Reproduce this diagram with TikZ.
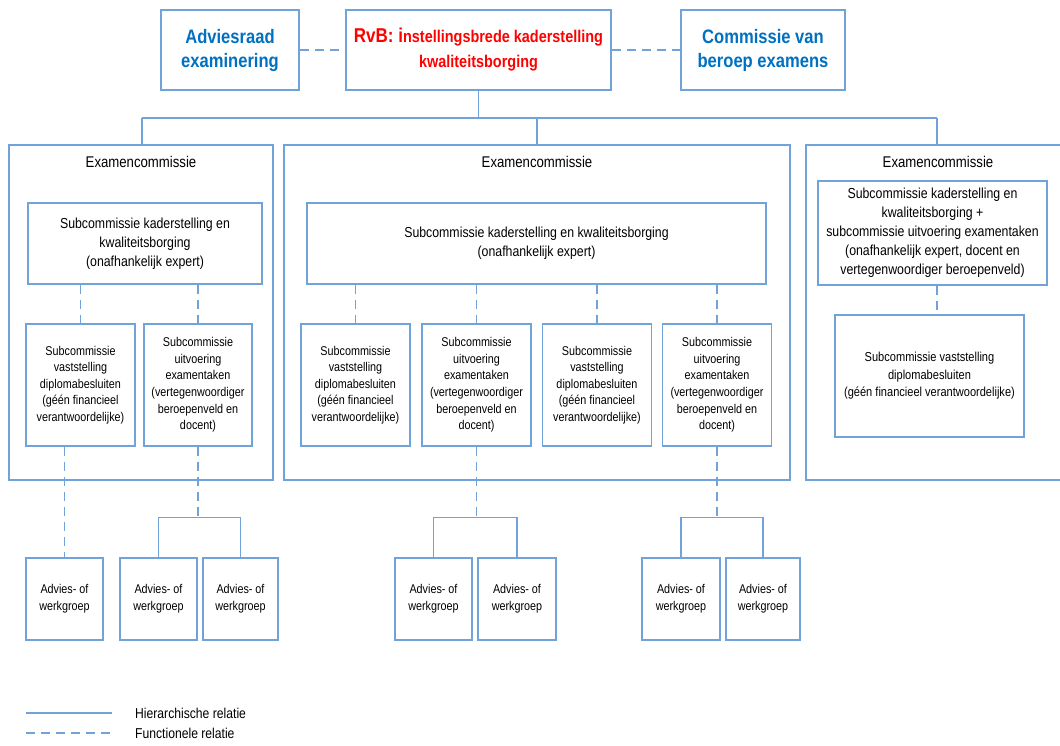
\documentclass[tikz,border=0pt]{standalone}
\usepackage{fontspec}
\setmainfont{Liberation Sans}[FakeStretch=0.85]
\definecolor{lijn}{RGB}{112,163,218}
\definecolor{kopblauw}{RGB}{0,112,192}
\definecolor{kopRood}{RGB}{255,0,0}

\begin{document}
\begin{tikzpicture}[x=1pt,y=-1pt,
  box/.style={draw=lijn, line width=1.2pt, align=center, inner sep=2pt},
  hier/.style={draw=lijn, line width=1.2pt},
  func/.style={draw=lijn, line width=1.2pt, dash pattern=on 9pt off 6pt},
  kop/.style={font=\fontsize{19.5}{24}\selectfont\bfseries, text=kopblauw},
  groot/.style={font=\fontsize{14.5}{19}\selectfont},
  klein/.style={font=\fontsize{12.7}{16.6}\selectfont}]
\useasboundingbox (0,0) rectangle (1060,745);

% top
\node (adv) at (230,50) [box, kop, minimum width=138, minimum height=80] {Adviesraad\\examinering};
\node (rvb) at (478.5,50) [box, minimum width=265, minimum height=80, text=kopRood, font=\fontsize{17}{25}\selectfont\bfseries]
  {{\fontsize{20}{25}\selectfont RvB: i}nstellingsbrede kaderstelling\\kwaliteitsborging};
\node (cve) at (763,50) [box, kop, minimum width=164, minimum height=80] {Commissie van\\beroep examens};

% examencommissies
\node (ec1) at (141,312.5) [box, minimum width=264, minimum height=335] {};
\node (ec2) at (537,312.5) [box, minimum width=506, minimum height=335] {};
\node (ec3) at (934,312.5) [box, minimum width=256, minimum height=335] {};
\node (ect1) at (141,162) [font=\fontsize{15.5}{19}\selectfont] {Examencommissie};
\node (ect2) at (537,162) [font=\fontsize{15.5}{19}\selectfont] {Examencommissie};
\node (ect3) at (938,162) [font=\fontsize{15.5}{19}\selectfont] {Examencommissie};

% subcommissies links
\node (k1) at (145,243.5) [box, groot, minimum width=234, minimum height=81] {Subcommissie kaderstelling en\\kwaliteitsborging\\(onafhankelijk expert)};
\node (s1a) at (80.5,385) [box, klein, minimum width=109, minimum height=122] {Subcommissie\\vaststelling\\diplomabesluiten\\(géén financieel\\verantwoordelijke)};
\node (s1b) at (198,385) [box, klein, minimum width=108, minimum height=122] {Subcommissie\\uitvoering\\examentaken\\(vertegenwoordiger\\beroepenveld en\\docent)};

% subcommissies midden
\node (k2) at (536.5,243.5) [box, groot, minimum width=459, minimum height=81] {Subcommissie kaderstelling en kwaliteitsborging\\(onafhankelijk expert)};
\node (s2a) at (355.5,385) [box, klein, minimum width=109, minimum height=122] {Subcommissie\\vaststelling\\diplomabesluiten\\(géén financieel\\verantwoordelijke)};
\node (s2b) at (476.5,385) [box, klein, minimum width=109, minimum height=122] {Subcommissie\\uitvoering\\examentaken\\(vertegenwoordiger\\beroepenveld en\\docent)};
\node (s2c) at (597,385) [box, klein, minimum width=109, minimum height=122] {Subcommissie\\vaststelling\\diplomabesluiten\\(géén financieel\\verantwoordelijke)};
\node (s2d) at (717,385) [box, klein, minimum width=109, minimum height=122] {Subcommissie\\uitvoering\\examentaken\\(vertegenwoordiger\\beroepenveld en\\docent)};

% subcommissies rechts
\node (k3) at (932.5,233) [box, groot, minimum width=229, minimum height=104] {Subcommissie kaderstelling en\\kwaliteitsborging +\\subcommissie uitvoering examentaken\\(onafhankelijk expert, docent en\\vertegenwoordiger beroepenveld)};
\node (s3) at (929.5,376) [box, font=\fontsize{13}{17.5}\selectfont, minimum width=189, minimum height=122] {Subcommissie vaststelling\\diplomabesluiten\\(géén financieel verantwoordelijke)};

% werkgroepen
\node (a1) at (64.5,599) [box, klein, minimum width=77, minimum height=82] {Advies- of\\werkgroep};
\node (a2) at (158.5,599) [box, klein, minimum width=77, minimum height=82] {Advies- of\\werkgroep};
\node (a3) at (240.5,599) [box, klein, minimum width=75, minimum height=82] {Advies- of\\werkgroep};
\node (a4) at (433.5,599) [box, klein, minimum width=77, minimum height=82] {Advies- of\\werkgroep};
\node (a5) at (517,599) [box, klein, minimum width=78, minimum height=82] {Advies- of\\werkgroep};
\node (a6) at (681,599) [box, klein, minimum width=78, minimum height=82] {Advies- of\\werkgroep};
\node (a7) at (763,599) [box, klein, minimum width=74, minimum height=82] {Advies- of\\werkgroep};

% hierarchische lijnen
\coordinate (t1) at (142,118);
\coordinate (t3) at (937,118);
\draw[hier] (t1) -- (t3);
\draw[hier] (rvb.south) -- (rvb.south |- t1);
\draw[hier] (t1) -- (t1 |- ec1.north);
\draw[hier] (ec2.north) -- (ec2.north |- t1);
\draw[hier] (t3) -- (t3 |- ec3.north);
\draw[hier] (a2.north) -- ++(0,-40) coordinate (h1) -| (a3.north);
\draw[hier] (a4.north) -- ++(0,-40) coordinate (h2) -| (a5.north);
\draw[hier] (a6.north) -- ++(0,-40) coordinate (h3) -| (a7.north);

% functionele lijnen
\draw[func] (adv.east) -- (rvb.west);
\draw[func] (rvb.east) -- (cve.west);
\draw[func] (s1a.north |- k1.south) -- (s1a.north);
\draw[func] (s1b.north |- k1.south) -- (s1b.north);
\draw[func] (s2a.north |- k2.south) -- (s2a.north);
\draw[func] (s2b.north |- k2.south) -- (s2b.north);
\draw[func] (s2c.north |- k2.south) -- (s2c.north);
\draw[func] (s2d.north |- k2.south) -- (s2d.north);
\draw[func] (t3 |- k3.south) -- (t3 |- s3.north);
\draw[func] (a1.north |- s1a.south) -- (a1.north);
\draw[func] (s1b.south) -- (s1b.south |- h1);
\draw[func] (s2b.south) -- (s2b.south |- h2);
\draw[func] (s2d.south) -- (s2d.south |- h3);

% legenda
\coordinate (l1) at (26,713);
\coordinate (l2) at (112,713);
\coordinate (l3) at (26,733);
\coordinate (l4) at (112,733);
\draw[hier] (l1) -- (l2);
\draw[func] (l3) -- (l4);
\node (lt1) at (135,713) [anchor=west, inner sep=0pt, font=\fontsize{14.3}{16}\selectfont] {Hierarchische relatie};
\node (lt2) at (135,733) [anchor=west, inner sep=0pt, font=\fontsize{14.3}{16}\selectfont] {Functionele relatie};
\end{tikzpicture}
\end{document}
